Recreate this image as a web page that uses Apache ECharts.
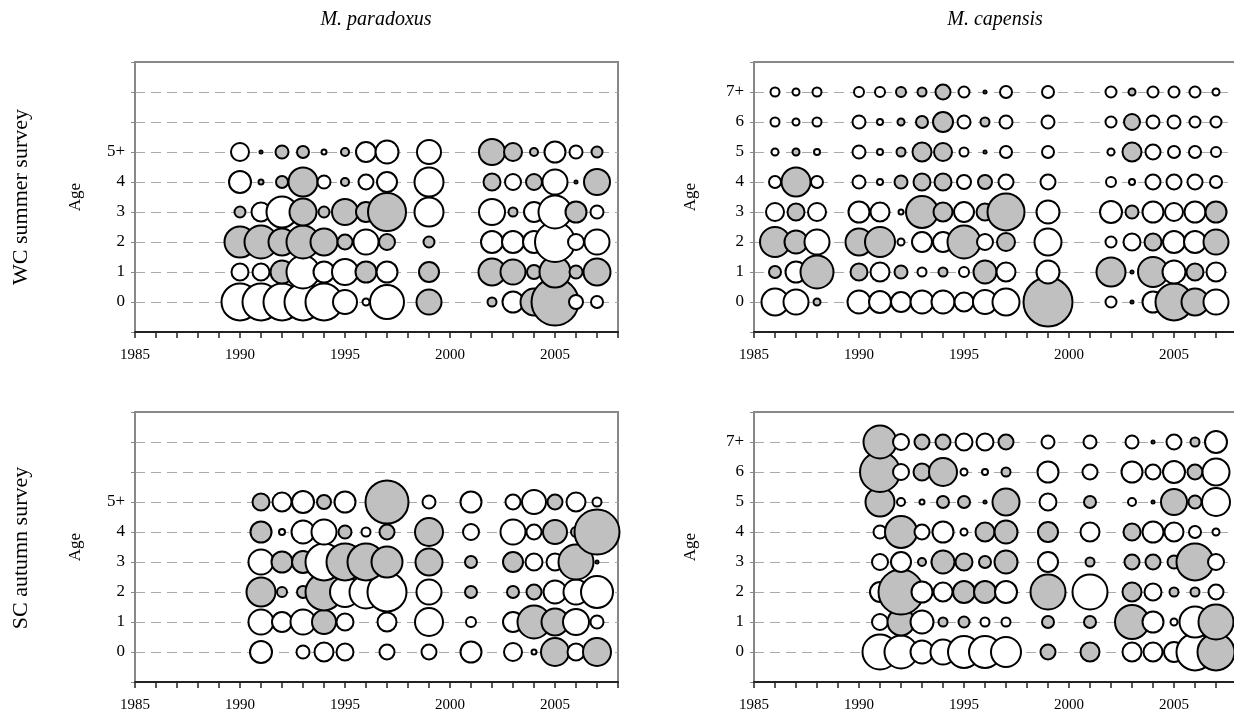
<!DOCTYPE html>
<html>
<head>
<meta charset="utf-8">
<script src="https://cdn.jsdelivr.net/npm/echarts@6/dist/echarts.min.js"></script>
<style>
html,body{margin:0;padding:0;background:#fff;}
#chart{width:1234px;height:725px;}
</style>
</head>
<body>
<div id="chart"></div>
<script>
// ---- Data: bubble values (relative abundance shown as bubble diameter) ----
// fill codes: g = grey (shaded), w = white (open); 0 value = no bubble

// M. paradoxus, WC summer survey (ages 0..5+)
const yearsParaWC = [1990,1991,1992,1993,1994,1995,1996,1997,1999,2002,2003,2004,2005,2006,2007];
const paraWC = [
  [37,37,37,37,37,24,7,34,25,9,21,27,47,14,12],   // age 0
  [17,17,23,33,21,26,21,21,20,27,25,14,31,13,27], // age 1
  [31,33,27,33,27,15,25,16,11,22,22,22,40,16,25], // age 2
  [11,19,31,27,11,26,20,38,29,26,9,20,33,21,13],  // age 3
  [22,5,12,29,13,8,15,20,29,17,16,16,25,3,26],    // age 4
  [18,3,13,12,5,8,20,23,24,26,18,8,21,13,11]      // age 5+
];
const paraWCFill = ["wwwwwwwwggwggww","wwgwwwgwggggggg","ggggggwggwwwwww","gwwgggggwwgwwgw","wgggwgwwwgwgwgg","wgggwgwwwgggwwg"];

// M. capensis, WC summer survey (ages 0..7+)
const yearsCapWC = [1986,1987,1988,1990,1991,1992,1993,1994,1995,1996,1997,1999,2002,2003,2004,2005,2006,2007];
const capWC = [
  [27,25,7,23,22,20,23,23,19,24,27,49,11,3,21,37,27,25],
  [12,21,33,17,19,13,9,9,10,23,19,23,29,3,30,23,17,19],
  [30,23,25,27,30,7,20,20,33,16,18,27,11,17,17,22,22,25],
  [18,17,18,21,19,5,32,19,20,17,37,23,22,13,21,18,21,21],
  [12,29,12,13,6,13,17,17,14,14,15,15,10,6,15,15,15,12],
  [7,7,6,13,6,9,19,18,9,3,12,12,7,19,15,12,12,10],
  [9,7,9,13,6,7,12,20,13,9,13,13,11,16,13,13,11,11],
  [9,7,9,10,10,10,9,15,11,3,12,12,11,7,11,11,11,7]
];
const capWCFill = ["wwgwwwwwwwwgwgwggw","gwggwgwgwgwwgggwgw","ggwggwwwgwgwwwgwwg","wgwwwwggwggwwgwwwg",
                   "wgwwwgggwgwwwwwwww","wgwwwgggwwwwwgwwww","wwwwwgggwgwwwgwwww","wwwwwgggwgwwwgwwww"];

// M. paradoxus, SC autumn survey (ages 0..5+)
const yearsParaSC = [1991,1992,1993,1994,1995,1996,1997,1999,2001,2003,2004,2005,2006,2007];
const paraSC = [
  [22,0,13,19,17,0,15,15,21,18,5,28,17,28],
  [25,20,25,24,17,0,19,28,10,20,33,27,26,13],
  [29,10,12,37,30,33,39,25,12,12,15,23,25,32],
  [25,21,22,37,37,37,31,27,12,20,17,17,35,3],
  [21,6,23,25,13,9,15,28,16,25,15,24,10,45],
  [17,19,22,14,21,0,43,13,21,15,24,15,19,9]
];
const paraSCFill = ["wwwwwwwwwwwgwg","wwwgwwwwwwggww","ggggwwwwgggwww","wggwggggggwwgg","gwwwgwggwwwggg","gwwgwwgwwwwgww"];

// M. capensis, SC autumn survey (ages 0..7+)
const yearsCapSC = [1991,1992,1993,1994,1995,1996,1997,1999,2001,2003,2004,2005,2006,2007];
const capSC = [
  [35,33,23,25,32,32,30,15,19,19,19,20,37,37],
  [16,27,23,9,11,9,9,12,12,34,21,7,31,35],
  [20,45,21,19,22,22,22,35,35,19,17,9,9,15],
  [16,20,8,23,17,12,23,20,9,15,15,13,37,16],
  [13,32,15,21,7,19,23,20,19,17,21,19,12,7],
  [29,8,5,12,12,3,27,17,12,8,3,26,13,28],
  [40,16,17,28,7,6,9,21,15,21,15,22,15,27],
  [33,16,15,15,17,17,15,13,13,13,3,15,9,22]
];
const capSCFill = ["wwwwwwwggwwwwg","wgwggwwgggwwwg","wgwwggwgwgwggw","wwgggggwgggggw",
                   "wgwwwgggwgwwww","gwwggggwgwgggw","gwggwwgwwwwwgw","gwggwwgwwwgwgw"];

const xTickYears = [1985,1990,1995,2000,2005];
const panelTitles = ["M. paradoxus","M. capensis"];
const rowTitles = ["WC summer survey","SC autumn survey"];

// ---- Build ----
const GREY = '#c0c0c0', WHITE = '#ffffff';
const SERIF = '"Liberation Serif","Times New Roman",serif';

function buildData(years, vals, fills){
  const out = [];
  vals.forEach((row, age) => {
    row.forEach((v, i) => {
      if (!v) return;
      const g = fills[age][i] === 'g';
      out.push({value:[years[i], age, v], itemStyle:{color: g ? GREY : WHITE}});
    });
  });
  return out;
}

const grids = [
  {left:135, top:62, width:483, height:270},
  {left:754, top:62, width:483, height:270},
  {left:135, top:412, width:483, height:270},
  {left:754, top:412, width:483, height:270}
].map(g => Object.assign(g, {show:true, borderColor:'#888', borderWidth:2, backgroundColor:'#fff',
                             containLabel:false, outerBoundsMode:'none'}));

function xAxis(i){
  return {
    gridIndex:i, type:'value', min:1985, max:2008, interval:5,
    axisLine:{show:true, onZero:false, lineStyle:{color:'#222', width:2}},
    axisTick:{show:true, length:6, lineStyle:{color:'#222', width:1.5}},
    minorTick:{show:true, splitNumber:5, length:6, lineStyle:{color:'#222', width:1.5}},
    splitLine:{show:false},
    axisLabel:{color:'#000', fontFamily:SERIF, fontSize:15, margin:16,
      formatter: v => xTickYears.indexOf(v) >= 0 ? String(v) : ''}
  };
}
function yAxis(i, topAge, nameGap){
  return {
    gridIndex:i, type:'value', min:-1, max:8, interval:1,
    name:'Age', nameLocation:'middle', nameGap:nameGap, nameRotate:90,
    nameTextStyle:{color:'#000', fontFamily:SERIF, fontSize:17},
    axisLine:{show:true, lineStyle:{color:'#888', width:2}},
    axisTick:{show:true, length:4, lineStyle:{color:'#888'}},
    splitLine:{show:true, showMinLine:false, showMaxLine:false, lineStyle:{color:'#aaa', type:[10,6], width:1}},
    axisLabel:{color:'#000', fontFamily:SERIF, fontSize:17, margin:10,
      formatter: v => v === topAge ? topAge + '+' : (v >= 0 && v < topAge ? String(v) : '')}
  };
}

function series(i, data){
  return {
    type:'scatter', xAxisIndex:i, yAxisIndex:i, data:data, clip:false,
    symbol:'circle', symbolSize: v => v[2],
    itemStyle:{borderColor:'#000', borderWidth:2, opacity:1},
    emphasis:{disabled:true}, silent:true
  };
}

const chart = echarts.init(document.getElementById('chart'), null, {renderer:'canvas'});
chart.setOption({
  animation:false,
  backgroundColor:'#fff',
  grid:grids,
  xAxis:[xAxis(0), xAxis(1), xAxis(2), xAxis(3)],
  yAxis:[yAxis(0,5,51), yAxis(1,7,55), yAxis(2,5,51), yAxis(3,7,55)],
  series:[
    series(0, buildData(yearsParaWC, paraWC, paraWCFill)),
    series(1, buildData(yearsCapWC, capWC, capWCFill)),
    series(2, buildData(yearsParaSC, paraSC, paraSCFill)),
    series(3, buildData(yearsCapSC, capSC, capSCFill))
  ],
  graphic:[
    {type:'text', x:376, y:20, style:{text:panelTitles[0], textAlign:'center', textVerticalAlign:'middle', font:'italic 20px ' + SERIF, fill:'#000'}},
    {type:'text', x:995, y:20, style:{text:panelTitles[1], textAlign:'center', textVerticalAlign:'middle', font:'italic 20px ' + SERIF, fill:'#000'}},
    {type:'text', x:21, y:197, rotation:Math.PI/2, style:{text:rowTitles[0], textAlign:'center', textVerticalAlign:'middle', font:'22px ' + SERIF, fill:'#000'}},
    {type:'text', x:21, y:548, rotation:Math.PI/2, style:{text:rowTitles[1], textAlign:'center', textVerticalAlign:'middle', font:'22px ' + SERIF, fill:'#000'}}
  ]
});
</script>
</body>
</html>
